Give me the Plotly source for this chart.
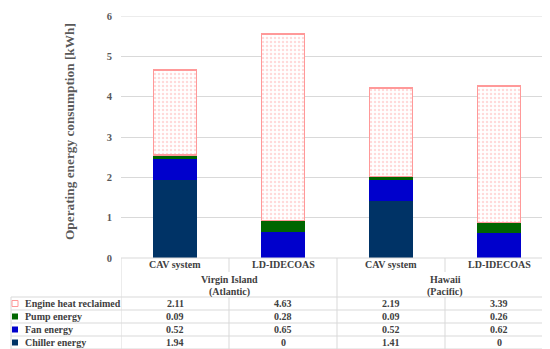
import plotly.graph_objects as go

# ---------------- data ----------------
categories = ["CAV system", "LD-IDECOAS", "CAV system ", "LD-IDECOAS "]
tick_labels = ["CAV system", "LD-IDECOAS", "CAV system", "LD-IDECOAS"]
groups = ["Virgin Island", "Hawaii"]
group_subs = ["(Atlantic)", "(Pacific)"]

chiller = [1.94, 0, 1.41, 0]
fan = [0.52, 0.65, 0.52, 0.62]
pump = [0.09, 0.28, 0.09, 0.26]
engine = [2.11, 4.63, 2.19, 3.39]

series_names = ["Chiller energy", "Fan energy", "Pump energy", "Engine heat reclaimed"]
series_vals = [chiller, fan, pump, engine]
series_colors = ["#003366", "#0000CC", "#006600", "#FF9999"]

y_ticks = [0, 1, 2, 3, 4, 5, 6]
y_title = "Operating energy consumption [kWh]"

# ---------------- layout constants ----------------
W, H = 550, 349
L, R, T, B = 113, 5, 8, 99
PW, PH = W - L - R, H - T - B
FONT = "Liberation Serif"
TXT = "#404040"
GRID = "#D9D9D9"


def py(p):  # pixel y -> paper y
    return (H - B - p) / PH


def px(p):  # pixel x -> paper x
    return (p - L) / PW


fig = go.Figure()
for name, vals, col in zip(series_names, series_vals, series_colors):
    if name == "Engine heat reclaimed":
        marker = dict(color="white",
                      line=dict(color=col, width=1.5),
                      pattern=dict(shape=".", fgcolor="#FFB4B4", bgcolor="white",
                                   size=4, solidity=0.3, fillmode="overlay"))
    else:
        marker = dict(color=col, line=dict(width=0))
    fig.add_trace(go.Bar(x=categories, y=vals, name=name, marker=marker,
                         showlegend=False, hoverinfo="skip"))

fig.update_layout(
    width=W, height=H, barmode="stack", bargap=0.6,
    margin=dict(l=L, r=R, t=T, b=B, autoexpand=False),
    plot_bgcolor="white", paper_bgcolor="white",
    font=dict(family=FONT, color=TXT),
)
fig.update_xaxes(showticklabels=False, showgrid=False, showline=False, zeroline=False,
                 range=[-0.5, 3.5])
fig.update_yaxes(range=[0, 6], tickvals=y_ticks, showgrid=True, gridcolor=GRID, gridwidth=1,
                 zeroline=False, showline=False, ticks="", ticklabelstandoff=8,
                 tickfont=dict(family=FONT, size=10.5, color="#595959", weight="bold"),
                 automargin=False)

shapes = []
line = dict(color=GRID, width=1)
# top gridline at the range edge
shapes.append(dict(type="line", xref="paper", yref="y", x0=0, x1=1, y0=y_ticks[-1], y1=y_ticks[-1],
                   line=line, layer="below"))
# horizontal lines
shapes.append(dict(type="line", xref="x", yref="paper", x0=-0.5, x1=3.5, y0=py(250), y1=py(250), line=line))
row_lines = [289, 302, 315, 328, 341]
for yy in row_lines:
    shapes.append(dict(type="line", xref="paper", yref="paper", x0=px(3), x1=1, y0=py(yy), y1=py(yy), line=line))
# vertical lines
for xx in [-0.5, 1.5, 3.5]:
    shapes.append(dict(type="line", xref="x", yref="paper", x0=xx, x1=xx, y0=py(250), y1=py(341), line=line))
for xx in [0.5, 2.5]:
    shapes.append(dict(type="line", xref="x", yref="paper", x0=xx, x1=xx, y0=py(250), y1=py(264), line=line))
    shapes.append(dict(type="line", xref="x", yref="paper", x0=xx, x1=xx, y0=py(289), y1=py(341), line=line))
shapes.append(dict(type="line", xref="paper", yref="paper", x0=px(3), x1=px(3), y0=py(289), y1=py(341), line=line))

ann = []
# y-axis title
ann.append(dict(x=px(62), y=py(124), xref="paper", yref="paper", text=y_title, textangle=-90,
                showarrow=False, xanchor="center", yanchor="middle",
                font=dict(family=FONT, size=13.3, color="#595959", weight="bold")))

tf = dict(family=FONT, size=10, color=TXT, weight="bold")
for i, lab in enumerate(tick_labels):
    ann.append(dict(x=i, y=py(256.5), xref="x", yref="paper", text=lab, showarrow=False,
                    font=tf, xanchor="center", yanchor="middle"))
for g, (gname, gsub) in enumerate(zip(groups, group_subs)):
    ann.append(dict(x=2 * g + 0.5, y=py(271), xref="x", yref="paper", text=gname, showarrow=False,
                    font=tf, xanchor="center", yanchor="middle"))
    ann.append(dict(x=2 * g + 0.5, y=py(283.5), xref="x", yref="paper", text=gsub, showarrow=False,
                    font=tf, xanchor="center", yanchor="middle"))

row_centers = [295.5, 308.5, 321.5, 334.5]
rows = list(zip(series_names, series_vals, series_colors))[::-1]
for (name, vals, col), yc in zip(rows, row_centers):
    # legend key
    if name == "Engine heat reclaimed":
        shapes.append(dict(type="rect", xref="paper", yref="paper", x0=px(4), x1=px(10),
                           y0=py(yc + 3), y1=py(yc - 3), line=dict(color=col, width=1),
                           fillcolor="white"))
    else:
        shapes.append(dict(type="rect", xref="paper", yref="paper", x0=px(4), x1=px(10),
                           y0=py(yc + 3), y1=py(yc - 3), line=dict(width=0), fillcolor=col))
    ann.append(dict(x=px(14.5), y=py(yc), xref="paper", yref="paper", text=name, showarrow=False,
                    font=tf, xanchor="left", yanchor="middle"))
    for i, v in enumerate(vals):
        ann.append(dict(x=i, y=py(yc), xref="x", yref="paper", text=f"{v:g}", showarrow=False,
                        font=tf, xanchor="center", yanchor="middle"))

fig.update_layout(shapes=shapes, annotations=ann)
fig.write_html("out.html")
